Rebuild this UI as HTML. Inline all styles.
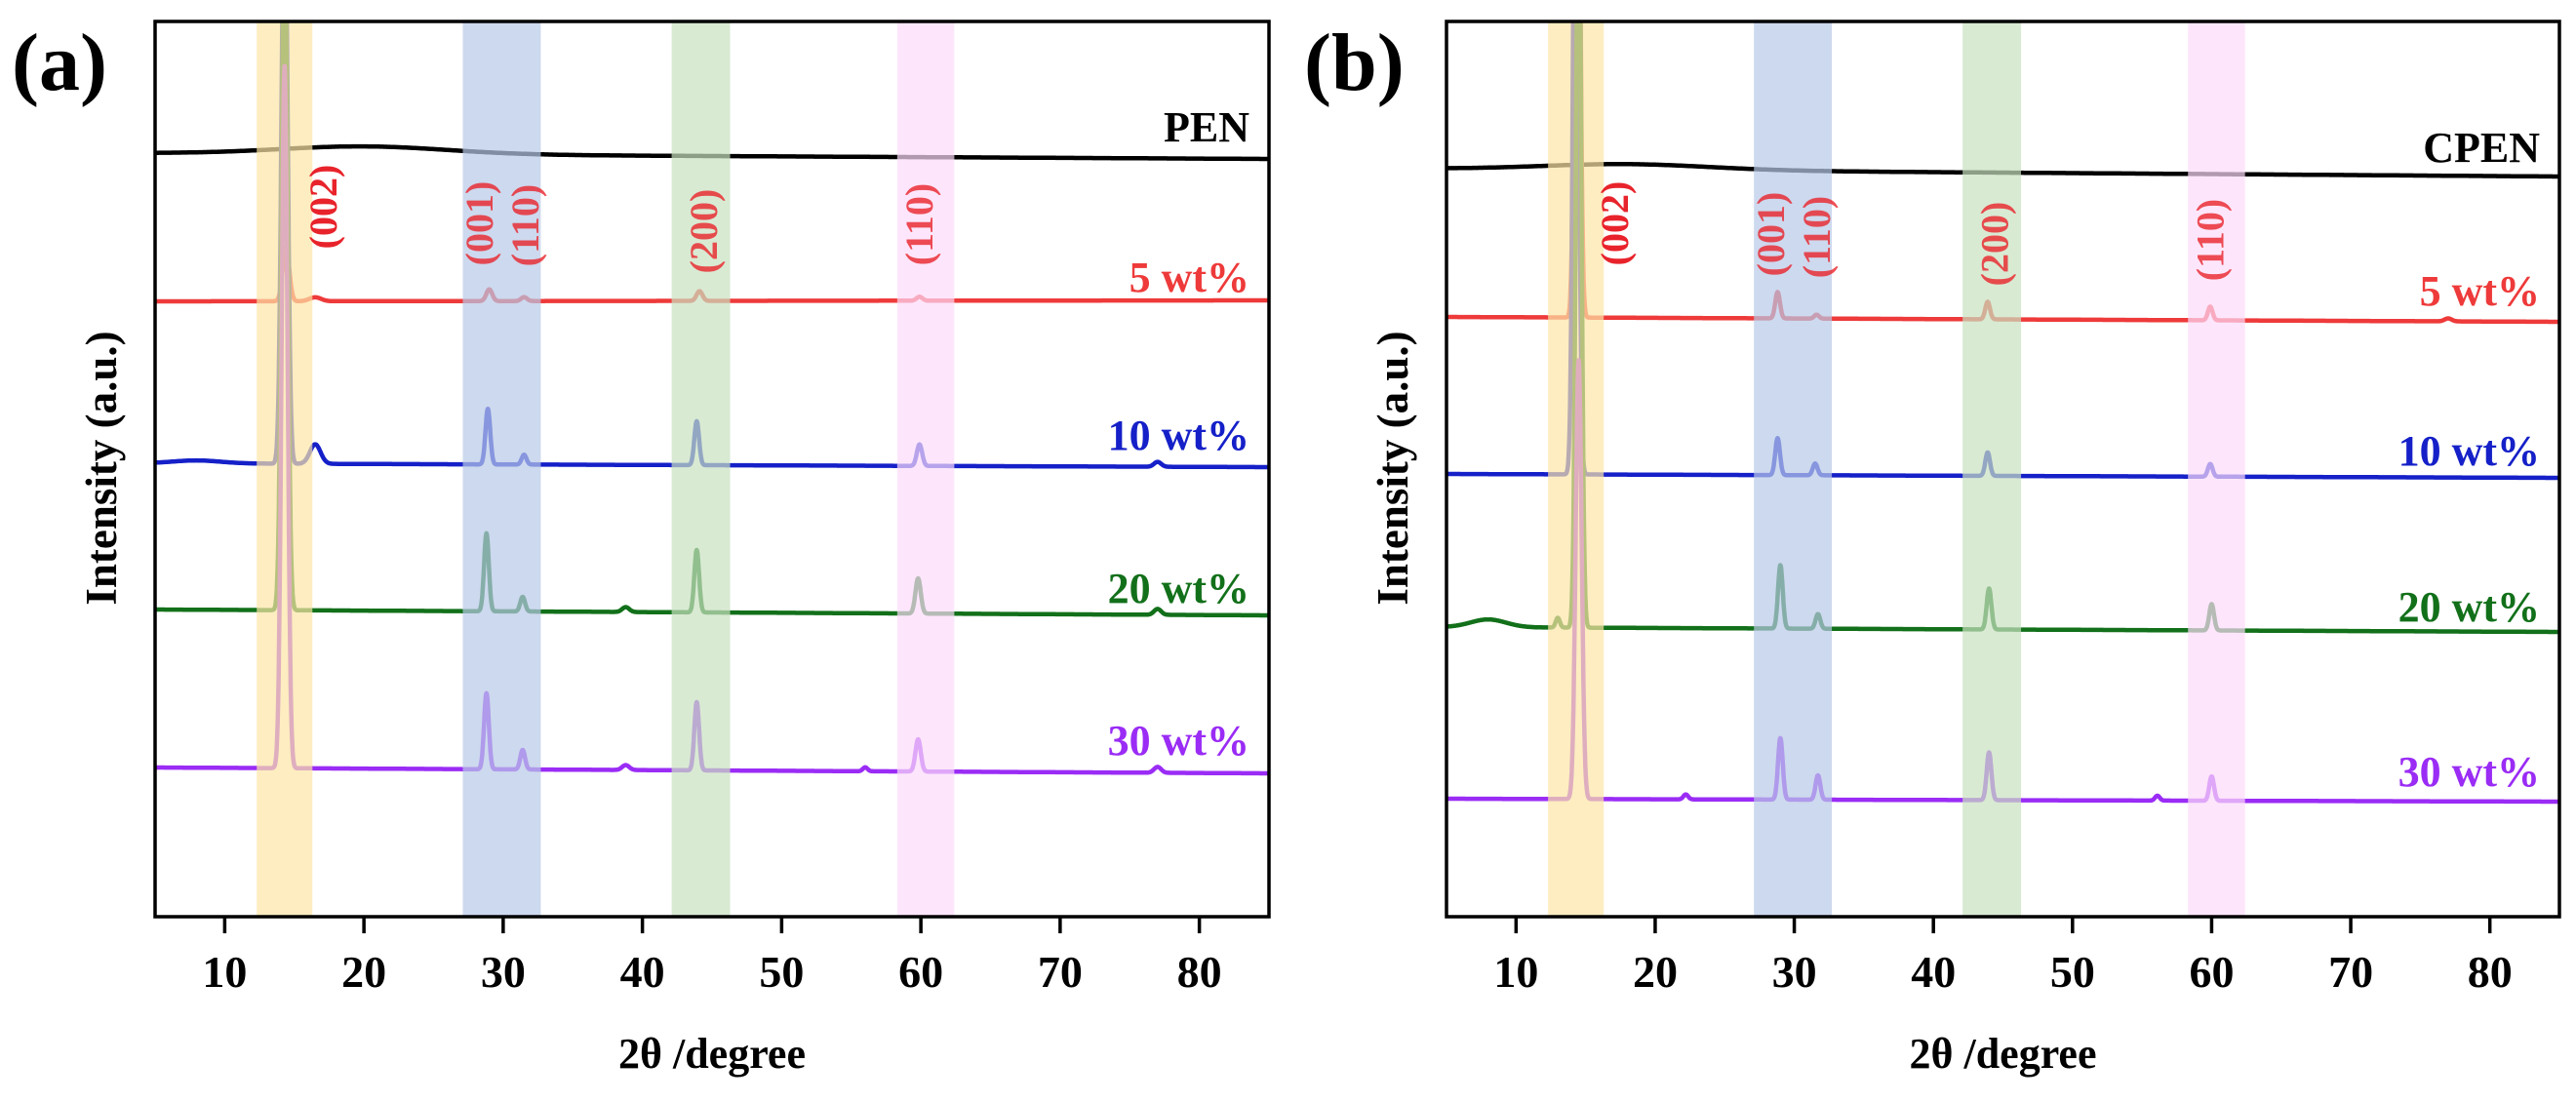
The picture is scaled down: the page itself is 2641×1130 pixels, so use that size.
<!DOCTYPE html>
<html><head><meta charset="utf-8"><style>
html,body{margin:0;padding:0;background:#fff;}
svg{display:block;font-family:"Liberation Serif",serif;font-weight:bold;}
</style></head><body>
<svg id="chart" width="2641" height="1130" viewBox="0 0 2641 1130" xmlns="http://www.w3.org/2000/svg"></svg>
<script>
// ---- data ----
const xTicks = [10,20,30,40,50,60,70,80];
const seriesNamesA = ["PEN","5 wt%","10 wt%","20 wt%","30 wt%"];
const seriesNamesB = ["CPEN","5 wt%","10 wt%","20 wt%","30 wt%"];
const seriesColors = ["#000000","#ee3a3a","#1520c8","#12701a","#9a2cf5"];
// baseline offsets (left, right) in intensity units
const baseA = [[783,777],[631,632],[465,461],[315,309],[153,147]];
const baseB = [[767,759],[615,610],[454,450],[297,292],[121,118]];
// peaks: [position (deg), height, FWHM]
const peaksA = [
 [[20,8,14]],
 [[14.4,55,0.55],[16.5,4,1],[29,12,0.5],[31.5,4,0.5],[44.1,10,0.5],[59.9,4,0.5]],
 [[14.3,620,0.5],[16.5,20,0.9],[8,3,4],[28.9,57,0.4],[31.5,10,0.4],[43.9,45,0.4],[59.9,22,0.45],[77,5,0.6]],
 [[14.3,700,0.5],[28.8,80,0.4],[31.4,15,0.4],[43.9,64,0.4],[59.8,36,0.45],[77,6,0.6],[38.8,5,0.6]],
 [[14.3,720,0.5],[28.8,78,0.4],[31.4,20,0.4],[43.9,70,0.4],[59.8,33,0.45],[77,6,0.6],[38.8,5,0.6],[56,4,0.4]]
];
const peaksB = [
 [[18,6,14]],
 [[14.4,700,0.45],[28.8,27,0.4],[31.6,4,0.4],[43.9,18,0.4],[59.9,14,0.4],[77,3,0.6]],
 [[14.3,800,0.45],[28.8,38,0.4],[31.5,12,0.4],[43.9,24,0.4],[59.9,13,0.4]],
 [[14.5,800,0.45],[29,65,0.4],[31.7,15,0.4],[44,42,0.4],[60,27,0.4],[8,8,3],[13,10,0.35]],
 [[14.5,450,0.5],[29,63,0.4],[31.7,25,0.4],[44,49,0.4],[60,25,0.4],[56.1,5,0.4],[22.2,5,0.4]]
];
const bandRanges = [[12.3,16.3],[27.1,32.7],[42.1,46.3],[58.3,62.4]];
const bandColors = ["#fce5a6","#b8c9e7","#c9e1c0","#fcdbf9"];
const hklLabels = ["(002)","(001)","(110)","(200)","(110)"];
const hklPosA = [[17.1,212],[28.3,229],[31.6,231],[44.4,237],[59.9,230]];
const hklPosB = [[17.1,229],[28.3,240],[31.6,243],[44.4,250],[59.9,246]];
const labelYA = [145,299,461,618,774];
const labelYB = [166,313,477,637,806];

const NS="http://www.w3.org/2000/svg";
const svg=document.getElementById('chart');
function mk(tag,attrs,parent){const e=document.createElementNS(NS,tag);for(const k in attrs)e.setAttribute(k,attrs[k]);(parent||svg).appendChild(e);return e;}

function panel(id,L,R,names,base,peaks,hklPos,labelY,letter,letterX){
  const T=22,B=940;
  const xs=v=>L+(v-5)/(80)*(R-L);
  const ys=v=>B-v;
  const g=mk('g',{});
  
  
  const clip=mk('clipPath',{id:'clip'+id},g);
  mk('rect',{x:L,y:T,width:R-L,height:B-T},clip);
  const lines=mk('g',{'clip-path':'url(#clip'+id+')'},g);
  base.forEach((b,i)=>{
    let d='';
    for(let x=5;x<=85.001;x+=0.02){
      let v=b[0]+(b[1]-b[0])*(x-5)/80;
      peaks[i].forEach(p=>{const s=p[2]/2.355;v+=p[1]*Math.exp(-0.5*((x-p[0])/s)**2);});
      d+=(d?'L':'M')+xs(x).toFixed(1)+','+ys(v).toFixed(1);
    }
    const pth=mk('path',{d:d,fill:'none',stroke:seriesColors[i],'stroke-width':4.5,'stroke-linejoin':'round'},lines);
    
    
  });
  bandRanges.forEach((r,i)=>{
    const rc=mk('rect',{x:xs(r[0]),y:T,width:xs(r[1])-xs(r[0]),height:B-T,fill:bandColors[i],opacity:0.7},g);
    
    
  });
  hklLabels.forEach((t,i)=>{
    const x=xs(hklPos[i][0]),y=hklPos[i][1];
    const tx=mk('text',{x:x,y:y,transform:'rotate(-90 '+x+' '+y+')','text-anchor':'middle','dominant-baseline':'central','font-size':40,fill:'#e8232b','fill-opacity':i==0?1:0.8},g);
    tx.textContent=t;
    
    
  });
  names.forEach((n,i)=>{
    const tx=mk('text',{x:R-20,y:labelY[i],'text-anchor':'end','font-size':44,fill:seriesColors[i]},g);
    tx.textContent=n;
    
    
  });
  const fr=mk('rect',{x:L,y:T,width:R-L,height:B-T,fill:'none',stroke:'#000','stroke-width':3.5},g);
  
  
  xTicks.forEach(t=>{
    const tk=mk('line',{x1:xs(t),x2:xs(t),y1:B,y2:B+17,stroke:'#000','stroke-width':3.5},g);
    
    
    const tl=mk('text',{x:xs(t),y:1012,'text-anchor':'middle','font-size':46,fill:'#000'},g);
    tl.textContent=t;
    
    
  });
  const xt=mk('text',{x:(L+R)/2,y:1095,'text-anchor':'middle','font-size':44,fill:'#000'},g);
  xt.textContent='2θ /degree';
  
  
  const yx=L-40,yy=480;
  const yt=mk('text',{x:yx,y:yy,transform:'rotate(-90 '+yx+' '+yy+')','text-anchor':'middle','font-size':45,fill:'#000'},g);
  yt.textContent='Intensity (a.u.)';
  
  
  const pl=mk('text',{x:letterX,y:92,'font-size':84,fill:'#000'},g);
  pl.textContent=letter;
  
  
}
panel('a',159,1301,seriesNamesA,baseA,peaksA,hklPosA,labelYA,'(a)',12);
panel('b',1483,2624,seriesNamesB,baseB,peaksB,hklPosB,labelYB,'(b)',1337);
</script>
</body></html>
